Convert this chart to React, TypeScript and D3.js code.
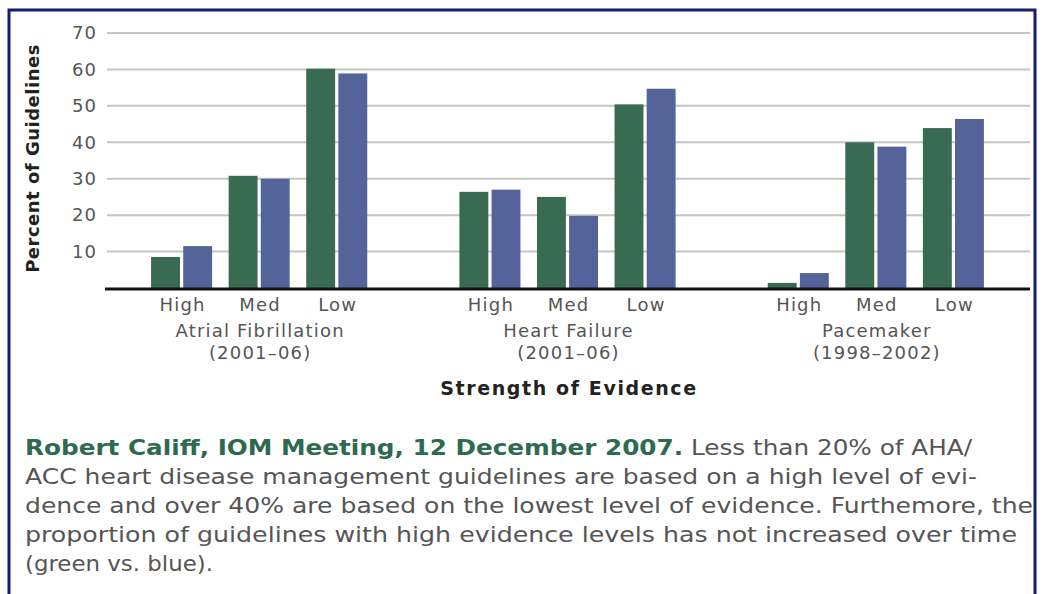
import { useEffect, useRef } from 'react';
import * as d3 from 'd3';

const groups = ['Atrial Fibrillation', 'Heart Failure', 'Pacemaker'];
const groupYears = ['(2001–06)', '(2001–06)', '(1998–2002)'];
const levels = ['High', 'Med', 'Low'];
const series = ['earlier', 'later'];
// green = earlier guidelines, blue = later guidelines
const greenValues = [8.5, 30.8, 60.2, 26.4, 25.0, 50.4, 1.4, 40.0, 43.9];
const blueValues = [11.5, 30.0, 58.9, 27.0, 19.8, 54.7, 4.1, 38.8, 46.4];
const yTicks = [10, 20, 30, 40, 50, 60, 70];

const captionLead = 'Robert Califf, IOM Meeting, 12 December 2007.';
const captionLines = [
  ' Less than 20% of AHA/',
  'ACC heart disease management guidelines are based on a high level of evi-',
  'dence and over 40% are based on the lowest level of evidence. Furthemore, the',
  'proportion of guidelines with high evidence levels has not increased over time',
  '(green vs. blue).',
];

const W = 1043;
const H = 594;
const colors = { earlier: '#386b52', later: '#55639b' };
const font = '"DejaVu Sans", sans-serif';

export default function App() {
  const svgRef = useRef<SVGSVGElement>(null);

  useEffect(() => {
    if (!svgRef.current) return;
    const svg = d3.select(svgRef.current);
    svg.selectAll('*').remove();

    const left = 105;
    const right = 1030;
    const top = 33;
    const bottom = 288;

    const y = d3.scaleLinear().domain([0, 70]).range([bottom, top]);
    const x0 = d3.scaleBand<string>().domain(groups).range([left, right]);
    const x1 = d3.scaleBand<string>().domain(levels).range([0, x0.bandwidth()])
      .paddingInner(0.213).paddingOuter(0.594);
    const x2 = d3.scaleBand<string>().domain(series).range([0, x1.bandwidth()]).paddingInner(0.1);

    svg.append('rect').attr('width', W).attr('height', H).attr('fill', '#fff');

    // frame
    svg.append('path')
      .attr('d', `M9,${H + 5}V10H1035V${H + 5}`)
      .attr('fill', 'none')
      .attr('stroke', '#14206b')
      .attr('stroke-width', 3);

    // gridlines
    svg.append('g').selectAll('line').data(yTicks).join('line')
      .attr('x1', 107).attr('x2', right)
      .attr('y1', (d) => y(d)).attr('y2', (d) => y(d))
      .attr('stroke', '#c3c7c0').attr('stroke-width', 2);

    svg.append('g').selectAll('text').data(yTicks).join('text')
      .attr('x', 97).attr('y', (d) => y(d)).attr('dy', '0.35em')
      .attr('text-anchor', 'end')
      .style('font-family', font).style('font-size', '18px').style('letter-spacing', '1px').style('fill', '#555')
      .text((d) => d);

    // bars
    const rows = groups.flatMap((g, gi) =>
      levels.map((l, li) => ({ g, l, earlier: greenValues[gi * 3 + li], later: blueValues[gi * 3 + li] }))
    );
    const cell = svg.append('g').selectAll('g').data(rows).join('g')
      .attr('transform', (d) => `translate(${x0(d.g)! + x1(d.l)!},0)`);
    cell.selectAll('rect')
      .data((d) => series.map((s) => ({ s, v: (d as any)[s] as number })))
      .join('rect')
      .attr('x', (d) => x2(d.s)!)
      .attr('width', x2.bandwidth())
      .attr('y', (d) => y(d.v))
      .attr('height', (d) => bottom - y(d.v))
      .attr('fill', (d) => colors[d.s as 'earlier' | 'later']);

    // baseline
    svg.append('line')
      .attr('x1', left).attr('x2', right).attr('y1', bottom + 1).attr('y2', bottom + 1)
      .attr('stroke', '#111').attr('stroke-width', 3);

    const label = (sel: any) => sel
      .attr('text-anchor', 'middle')
      .style('font-family', font).style('font-size', '18px').style('letter-spacing', '1.2px').style('fill', '#555');

    // level labels
    cell.append('text')
      .attr('x', x1.bandwidth() / 2 + 1).attr('y', 311)
      .call(label)
      .text((d) => d.l);

    const gl = svg.append('g').selectAll('g').data(groups).join('g')
      .attr('transform', (d) => `translate(${x0(d)! + x0.bandwidth() / 2 + 1},0)`);
    gl.append('text').attr('y', 337).call(label).text((d) => d);
    gl.append('text').attr('y', 359).call(label).text((d, i) => groupYears[i]);

    svg.append('text')
      .attr('x', 569).attr('y', 395).attr('text-anchor', 'middle')
      .style('font-family', font).style('font-size', '19px').style('font-weight', 'bold')
      .style('letter-spacing', '1.6px').style('fill', '#222')
      .text('Strength of Evidence');

    svg.append('text')
      .attr('transform', `translate(39,${(top + bottom) / 2 - 2}) rotate(-90)`)
      .attr('text-anchor', 'middle')
      .style('font-family', font).style('font-size', '18px').style('font-weight', 'bold')
      .style('letter-spacing', '0.5px').style('fill', '#222')
      .text('Percent of Guidelines');

    // caption
    const capWidths = [947, 952, 1008, 992, 188];
    captionLines.forEach((line, i) => {
      const t = svg.append('text')
        .attr('x', 25).attr('y', 455 + i * 29)
        .attr('textLength', capWidths[i]).attr('lengthAdjust', 'spacingAndGlyphs')
        .style('font-family', font).style('font-size', '21px').style('fill', '#555');
      if (i === 0) {
        t.append('tspan').style('font-weight', 'bold').style('fill', '#2d6a4f').text(captionLead);
      }
      t.append('tspan').text(line);
    });
  }, []);

  return (
    <svg
      ref={svgRef}
      width={W}
      height={H}
      style={{ position: 'absolute', left: 0, top: 0 }}
    />
  );
}
